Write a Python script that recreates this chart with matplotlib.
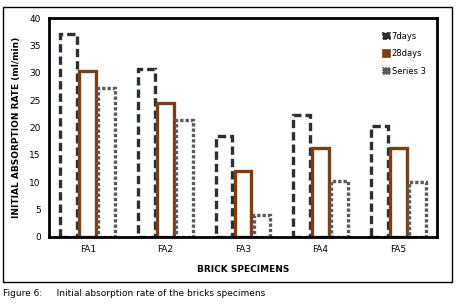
import matplotlib.pyplot as plt
import numpy as np
from matplotlib.patches import Rectangle

specimens = ["FA1", "FA2", "FA3", "FA4", "FA5"]
days7 = [37.1, 30.6, 18.5, 22.2, 20.2]
days28 = [30.3, 24.5, 12.1, 16.3, 16.3]
series3 = [27.3, 21.4, 4.1, 10.2, 10.1]

fig = plt.figure(figsize=(4.57, 3.06), dpi=100)
ax = fig.add_axes([49/457, 1 - 237/306, 388/457, 219/306])

x = np.arange(len(specimens))
w = 0.245
ax.bar(x - w, days7, w * 0.88, facecolor="white", edgecolor="#2b2f36",
       linewidth=2.4, linestyle=(0, (2.5, 1.2)), label="7days")
ax.bar(x, days28, w * 0.88, facecolor="white", edgecolor="#7b3f17",
       linewidth=2.4, label="28days")
ax.bar(x + w, series3, w * 0.88, facecolor="white", edgecolor="#5a5a5a",
       linewidth=2.4, linestyle=(0, (1, 0.6)), label="Series 3")

ax.set_xlim(-0.5, 4.5)
ax.set_ylim(0, 40)
ax.set_yticks(range(0, 41, 5))
ax.set_xticks(x)
ax.set_xticklabels(specimens)
ax.tick_params(length=0, labelsize=6.5, pad=6)
for s in ax.spines.values():
    s.set_linewidth(2)
ax.set_xlabel("BRICK SPECIMENS", fontsize=6.5, fontweight="bold", labelpad=8)
ax.set_ylabel("INITIAL ABSORPTION RATE (ml/min)", fontsize=6.5, fontweight="bold", labelpad=6)

leg = ax.legend(loc="upper right", bbox_to_anchor=(0.99, 0.97), frameon=False,
                fontsize=6, handlelength=0.8, handleheight=0.8, handletextpad=0.2,
                labelspacing=1.0)
for h, c in zip(leg.legend_handles, ["#2b2f36", "#7b3f17", "#5a5a5a"]):
    h.set_facecolor(c)
    h.set_linewidth(1.2)

fig.patches.append(Rectangle((3/457, 1 - 282/306), 449/457, 275/306,
                             transform=fig.transFigure, fill=False,
                             edgecolor="black", linewidth=1))
fig.text(3/457, 1 - 294/306, "Figure 6:     Initial absorption rate of the bricks specimens",
         fontsize=6.5, va="center")

fig.savefig("out.png", dpi=100)
